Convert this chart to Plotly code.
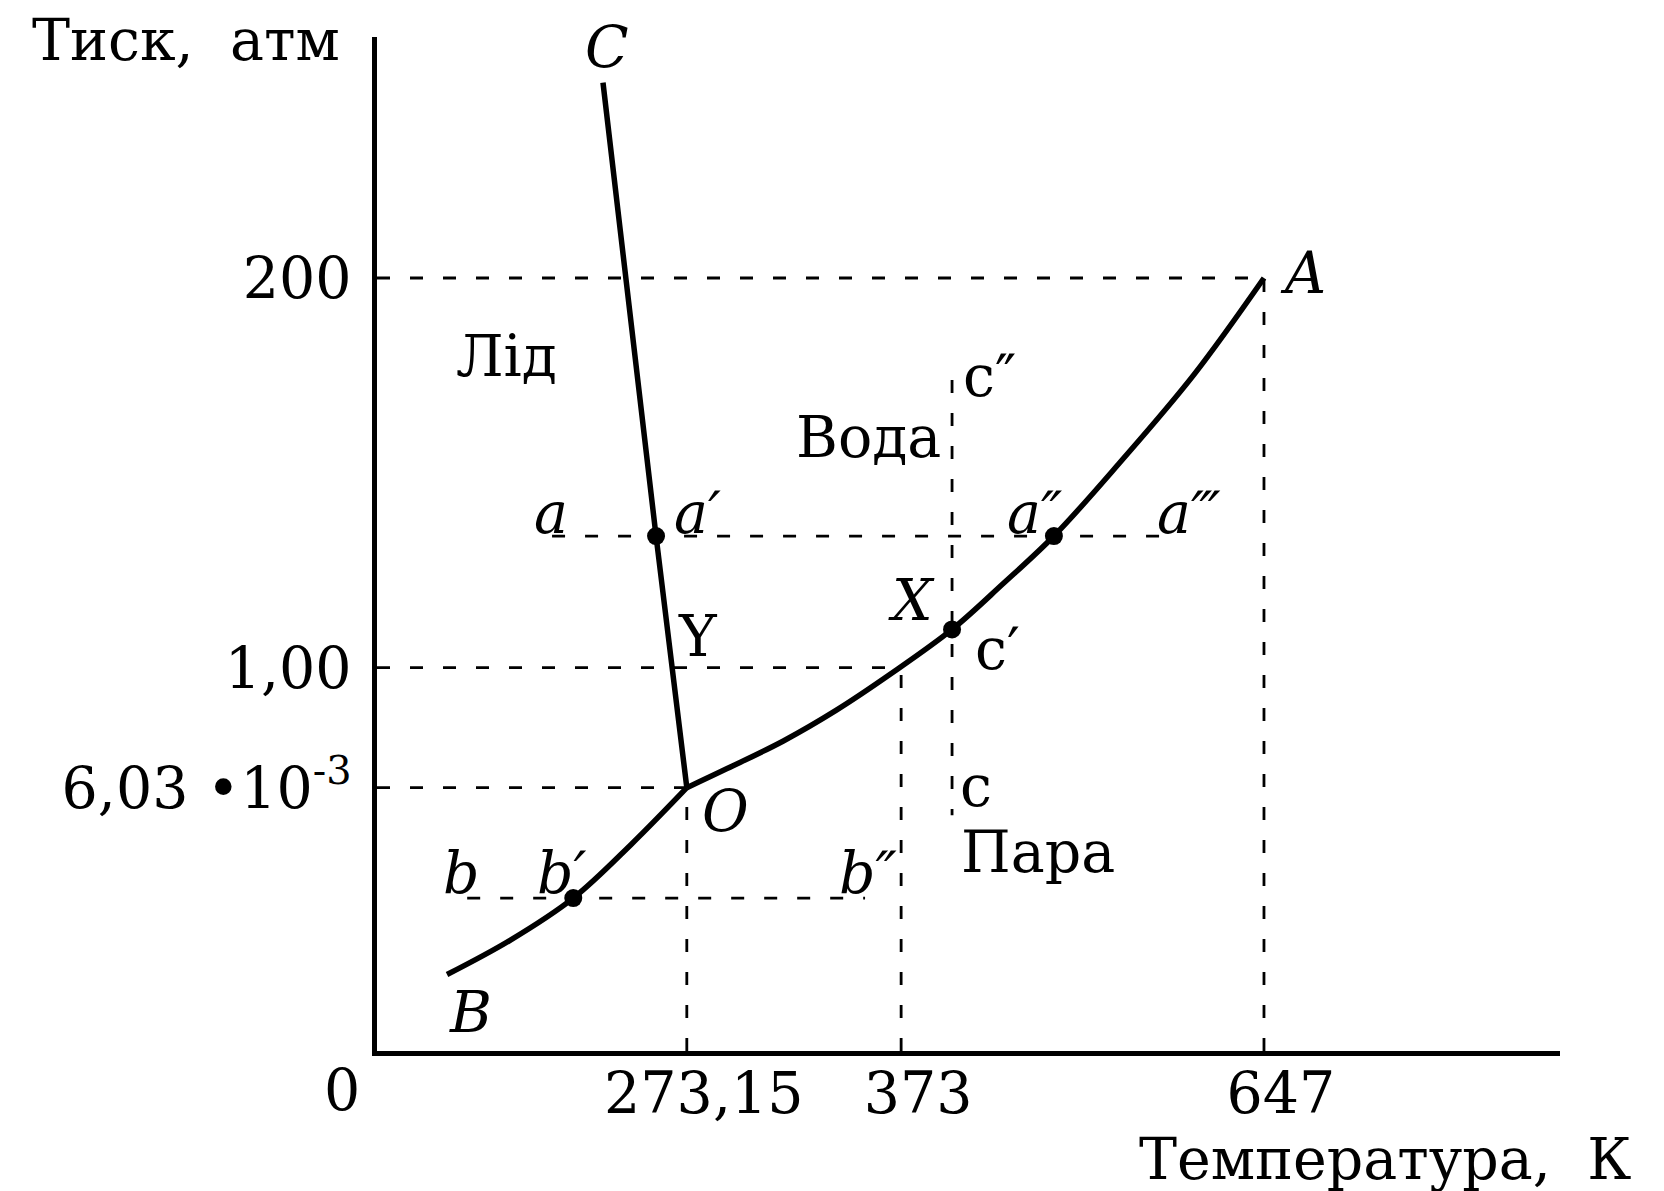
import plotly.graph_objects as go

# Schematic phase diagram of water (schematic, non-linear axes).
# All coordinates are in schematic units of the drawing.

X_RANGE = [0, 1115]
Y_RANGE = [0, 955]

# axis tick positions (schematic units) and their labels
x_tick_pos = [292, 494, 836]
x_tick_text = ["273,15", "373", "647"]
y_tick_pos = [728, 361, 248]
y_tick_text = ["200", "1,00", "6,03 •10<sup>-3</sup>"]

# melting curve O -> C
melt_x = [292, 263, 213]
melt_y = [248, 485, 912]

# sublimation curve B -> O
subl_x = [66, 125, 185, 240, 292]
subl_y = [72, 104, 144, 195, 248]

# vaporization curve O -> A
vap_x = [292, 330, 383, 433, 484, 542, 590, 638, 700, 770, 836]
vap_y = [248, 266, 292, 321, 355, 397, 440, 485, 554, 637, 728]

# marked points a', a'', c'(X), b'
pts_x = [263, 638, 542, 185]
pts_y = [485, 485, 397, 144]

# dashed guide lines: (x0, y0, x1, y1)
guides = [
    (0, 728, 836, 728),     # 200 atm
    (836, 0, 836, 728),     # 647 K
    (165, 485, 745, 485),   # a - a'''
    (542, 632, 542, 222),   # c'' - c
    (0, 361, 494, 361),     # 1,00 atm
    (494, 0, 494, 361),     # 373 K
    (0, 248, 292, 248),     # triple point pressure
    (292, 0, 292, 248),     # 273,15 K
    (85, 144, 460, 144),    # b - b''
]

# text labels inside the diagram: (text, x, y, italic)
labels = [
    ("C", 217, 946, True),
    ("A", 873, 733, True),
    ("a", 164, 507, True),
    ("a′", 302, 507, True),
    ("a″", 620, 507, True),
    ("a‴", 765, 507, True),
    ("c″", 577, 636, False),
    ("X", 504, 425, True),
    ("Y", 303, 391, False),
    ("c′", 585, 379, False),
    ("O", 328, 226, True),
    ("c", 565, 250, False),
    ("b", 80, 168, True),
    ("b′", 174, 168, True),
    ("b″", 463, 168, True),
    ("B", 88, 37, True),
    ("Лід", 122, 655, False),
    ("Вода", 463, 578, False),
    ("Пара", 623, 187, False),
]

# texts outside the plotting area: (text, x, y)
outer_labels = [
    ("0", -33, -37),
    ("Тиск,  атм", -180, 952),
    ("Температура,  К", 950, -102),
]

FONT = "DejaVu Serif"
FS = 57

fig = go.Figure()

for (x0, y0, x1, y1) in guides:
    fig.add_trace(go.Scatter(x=[x0, x1], y=[y0, y1], mode="lines",
                             line=dict(color="black", width=2.8, dash="13px,20px"),
                             hoverinfo="skip"))

for xs, ys, shape in [(melt_x, melt_y, "linear"), (subl_x, subl_y, "spline"), (vap_x, vap_y, "spline")]:
    fig.add_trace(go.Scatter(x=xs, y=ys, mode="lines",
                             line=dict(color="black", width=5.5, shape=shape, smoothing=1.0),
                             hoverinfo="skip"))

fig.add_trace(go.Scatter(x=pts_x, y=pts_y, mode="markers",
                         marker=dict(color="black", size=18), hoverinfo="skip"))

for text, x, y, it in labels:
    fig.add_annotation(x=x, y=y, xref="x", yref="y",
                       text=f"<i>{text}</i>" if it else text,
                       xanchor="center", yanchor="middle",
                       showarrow=False, font=dict(family=FONT, size=FS, color="black"))

for text, x, y in outer_labels:
    fig.add_annotation(x=(x - X_RANGE[0]) / (X_RANGE[1] - X_RANGE[0]),
                       y=(y - Y_RANGE[0]) / (Y_RANGE[1] - Y_RANGE[0]),
                       xref="paper", yref="paper", text=text, showarrow=False,
                       xanchor="center", yanchor="middle",
                       font=dict(family=FONT, size=FS, color="black"))

fig.update_layout(
    width=1656, height=1183,
    margin=dict(l=369, r=104, t=29, b=140, autoexpand=False),
    paper_bgcolor="white", plot_bgcolor="white",
    showlegend=False, hovermode=False,
    font=dict(family=FONT, size=FS, color="black"),
)
fig.update_xaxes(range=X_RANGE, showgrid=False, zeroline=False,
                 showline=True, linecolor="black", linewidth=5,
                 tickvals=x_tick_pos, ticktext=x_tick_text, ticks="",
                 ticklabelshift=17, ticklabelstandoff=-11,
                 tickfont=dict(family=FONT, size=FS, color="black"))
fig.update_yaxes(range=Y_RANGE, showgrid=False, zeroline=False,
                 showline=True, linecolor="black", linewidth=5,
                 tickvals=y_tick_pos, ticktext=y_tick_text, ticks="",
                 ticklabelstandoff=9,
                 tickfont=dict(family=FONT, size=FS, color="black"))

fig.write_html("out.html")
